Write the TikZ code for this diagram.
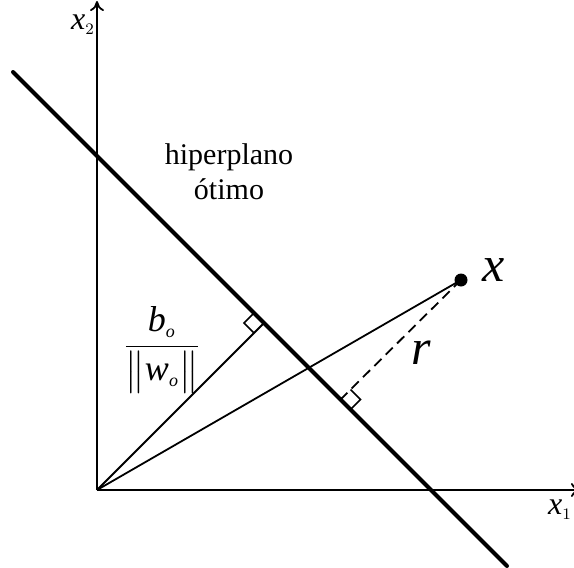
\documentclass[tikz,border=0pt]{standalone}
\usepackage{amsmath}
\usepackage{fontspec}
\setmainfont{Liberation Serif}
\usetikzlibrary{arrows.meta}

\begin{document}
\begin{tikzpicture}[
    x=0.5pt, y=-0.5pt,
    axis/.style={-{To[length=5pt,width=7pt]}, line width=0.9pt},
    plane/.style={line width=2pt, line cap=round},
    ray/.style={line width=0.9pt},
    rightangle/.style={line width=0.8pt},
    lbl/.style={inner sep=0pt, font=\fontsize{15}{17.5}\selectfont, align=center}
]
\useasboundingbox (0,0) rectangle (574,568);
\coordinate (O) at (97,490);
\coordinate (X1) at (581,490);
\coordinate (X2) at (97,1);
\coordinate (H1) at (13,72);
\coordinate (H2) at (507,566);
\coordinate (F) at (264,323);
\coordinate (G) at (340.5,399.5);
\coordinate (P) at (461,280);
% eixos
\draw[axis] (O) -- (X1);
\draw[axis] (O) -- (X2);
\node[inner sep=0pt, font=\fontsize{16}{18}\selectfont] (x1) at (560,510) {$\mathit{x}_{\scriptscriptstyle 1}$};
\node[inner sep=0pt, font=\fontsize{16}{18}\selectfont] (x2) at (83,25) {$\mathit{x}_{\scriptscriptstyle 2}$};
% hiperplano
\draw[plane] (H1) -- (H2);
\node[lbl] (hp) at (229,172) {hiperplano\\ótimo};
% vetores
\draw[ray] (O) -- (F);
\draw[ray] (O) -- (P);
\draw[ray, dashed, dash pattern=on 5pt off 3pt] (P) -- (G);
\draw[rightangle] (F) ++(-10,10) -- ++(-10,-10) -- ++(10,-10);
\draw[rightangle] (G) ++(10,-10) -- ++(10,10) -- ++(-10,10);
\fill (P) circle[radius=6.5];
\node[inner sep=0pt, font=\fontsize{25}{29}\selectfont] (xl) at (494,270) {$\mathit{x}$};
\node[inner sep=0pt, font=\fontsize{25}{29}\selectfont] (rl) at (421,353) {$\mathit{r}$};
\node[inner sep=0pt, font=\fontsize{18}{22}\selectfont] (frac) at (162,350) {$\dfrac{\mathit{b}_{\scriptscriptstyle\mathit{o}}}{\bigl\lVert \mathit{w}_{\scriptscriptstyle\mathit{o}}\bigr\rVert}$};
\end{tikzpicture}
\end{document}
